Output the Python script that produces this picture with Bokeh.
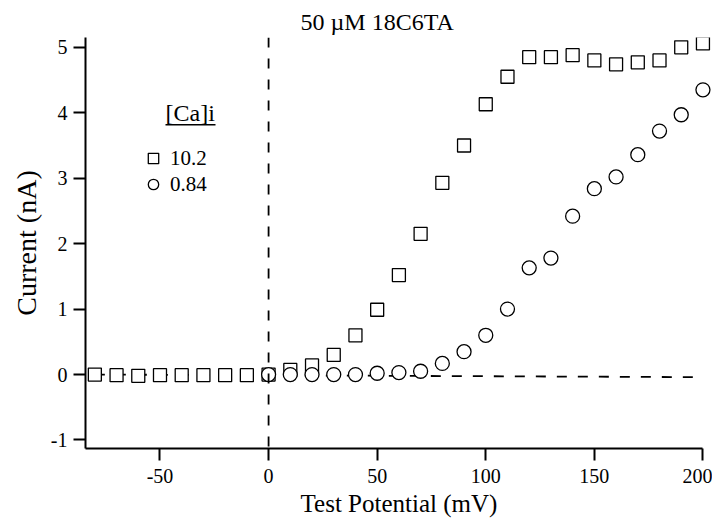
from bokeh.plotting import figure
from bokeh.models import Range1d, Span, Legend, LegendItem, FixedTicker, Label, BoxAnnotation
from bokeh.embed import file_html
from bokeh.resources import INLINE

# ---- data ----
potential_sq = [-80, -70, -60, -50, -40, -30, -20, -10, 0, 10, 20, 30, 40, 50, 60, 70, 80, 90,
                100, 110, 120, 130, 140, 150, 160, 170, 180, 190, 200]
current_sq = [0.0, -0.01, -0.02, -0.01, -0.01, -0.01, -0.01, -0.01, 0.0, 0.07, 0.14, 0.3, 0.6,
              0.99, 1.52, 2.15, 2.93, 3.5, 4.13, 4.55, 4.85, 4.85, 4.88, 4.8, 4.74, 4.77, 4.8,
              5.0, 5.06]
potential_ci = [0, 10, 20, 30, 40, 50, 60, 70, 80, 90, 100, 110, 120, 130, 140, 150, 160, 170,
                180, 190, 200]
current_ci = [0.0, 0.0, 0.0, 0.0, 0.0, 0.02, 0.03, 0.05, 0.17, 0.35, 0.6, 1.0, 1.63, 1.78, 2.42,
              2.84, 3.02, 3.36, 3.72, 3.97, 4.35]
leak_x = [-80, 200]
leak_y = [0.0, -0.04]
x_ticks = [-50, 0, 50, 100, 150, 200]
x_tick_labels = ["-50", "0", "50", "100", "150", "200"]
y_ticks = [-1, 0, 1, 2, 3, 4, 5]
y_tick_labels = ["-1", "0", "1", "2", "3", "4", "5"]
series_labels = ["10.2", "0.84"]
legend_title = "[Ca]i"
title_text = "50 \u00b5M 18C6TA"

FONT = "Liberation Serif"

p = figure(width=712, height=521, output_backend="svg", toolbar_location=None,
           x_range=Range1d(-84.3, 204.4), y_range=Range1d(-1.13, 5.15),
           min_border_left=85, min_border_right=0, min_border_top=37, min_border_bottom=73)
p.outline_line_color = None
p.grid.visible = False
p.background_fill_color = "white"
p.border_fill_color = "white"

p.title.text = title_text
p.title.text_font = FONT
p.title.text_font_size = "24px"
p.title.text_font_style = "normal"
p.title.text_color = "black"
p.title.align = "left"
p.title.offset = 215
p.title.standoff = 6

for ax in (p.xaxis[0], p.yaxis[0]):
    ax.axis_line_width = 2
    ax.major_tick_line_width = 2
    ax.major_tick_out = 12
    ax.major_tick_in = 0
    ax.minor_tick_line_color = None
    ax.major_label_text_font = FONT
    ax.major_label_text_font_size = "20px"
    ax.major_label_text_color = "black"
    ax.axis_label_text_font = FONT
    ax.axis_label_text_font_style = "normal"
    ax.axis_label_text_color = "black"

p.xaxis.axis_label_text_font_size = "25px"
p.yaxis.axis_label_text_font_size = "28px"
p.xaxis.ticker = FixedTicker(ticks=x_ticks)
p.yaxis.ticker = FixedTicker(ticks=y_ticks)
p.xaxis.major_label_overrides = dict(zip(x_ticks, x_tick_labels))
p.yaxis.major_label_overrides = dict(zip(y_ticks, y_tick_labels))
p.xaxis.bounds = (-84.3, 200)
p.xaxis.axis_label = "Test Potential (mV)"
p.yaxis.axis_label = "Current (nA)"
p.xaxis.major_label_standoff = 8
p.yaxis.major_label_standoff = 6
p.xaxis.axis_label_standoff = 4
p.yaxis.axis_label_standoff = 6

# dashed reference lines
p.add_layout(Span(location=0, dimension="height", line_color="black", line_width=1.8,
                  line_dash="10 11"))
p.line(leak_x, leak_y, line_color="black", line_width=1.8, line_dash="10 11")

sq = p.scatter(potential_sq, current_sq, marker="square", size=13, line_color="black",
               line_width=1.3, fill_color="white")
ci = p.scatter(potential_ci, current_ci, marker="circle", size=14, line_color="black",
               line_width=1.3, fill_color="white")

legend = Legend(items=[LegendItem(label=series_labels[0], renderers=[sq]),
                       LegendItem(label=series_labels[1], renderers=[ci])],
                location=(54, 251), padding=0, margin=0, spacing=0,
                glyph_width=28, glyph_height=26, label_height=26, label_standoff=3,
                label_text_font=FONT, label_text_font_size="21px", label_text_color="black",
                border_line_color=None, background_fill_alpha=0)
p.add_layout(legend, "center")

p.add_layout(Label(x=80, y=336, x_units="screen", y_units="screen", text=legend_title,
                   text_font=FONT, text_font_size="24px", text_baseline="middle",
                   text_color="black"))
p.add_layout(BoxAnnotation(left=80, right=130, bottom=323, top=324.5, left_units="screen",
                           right_units="screen", bottom_units="screen", top_units="screen",
                           fill_color="black", fill_alpha=1, line_color=None))

open("out.html", "w").write(file_html(p, INLINE))
